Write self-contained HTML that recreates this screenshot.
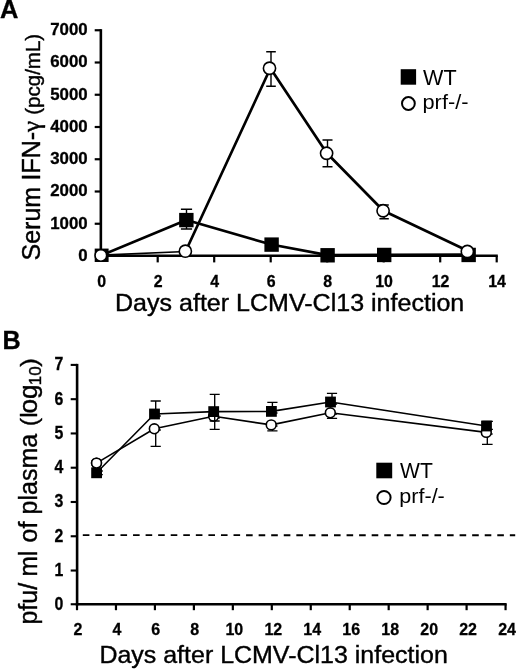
<!DOCTYPE html><html><head><meta charset="utf-8"><title>Figure</title>
<style>html,body{margin:0;padding:0;background:#fff;}svg{display:block;will-change:transform;}text{font-family:"Liberation Sans",sans-serif;fill:#000;}.b{font-weight:bold;stroke:#000;stroke-width:0.3px;}.t{stroke:#000;stroke-width:0.4px;}.s{font-family:"Liberation Serif",serif;}</style>
</head><body>
<svg width="520" height="670" viewBox="0 0 520 670">
<rect width="520" height="670" fill="#fff"/>
<g id="chartA" stroke="#000" fill="none">
<line x1="100.85" y1="29.15" x2="100.85" y2="257.05" stroke-width="2.6"/>
<line x1="99.55" y1="255.75" x2="497.8" y2="255.75" stroke-width="2.6"/>
<line x1="94.7" y1="223.75" x2="101" y2="223.75" stroke-width="2.2"/>
<line x1="94.7" y1="191.50" x2="101" y2="191.50" stroke-width="2.2"/>
<line x1="94.7" y1="159.25" x2="101" y2="159.25" stroke-width="2.2"/>
<line x1="94.7" y1="127.00" x2="101" y2="127.00" stroke-width="2.2"/>
<line x1="94.7" y1="94.75" x2="101" y2="94.75" stroke-width="2.2"/>
<line x1="94.7" y1="62.50" x2="101" y2="62.50" stroke-width="2.2"/>
<line x1="94.7" y1="30.25" x2="101" y2="30.25" stroke-width="2.2"/>
<line x1="101.20" y1="255.75" x2="101.20" y2="261.5" stroke-width="2.2"/>
<line x1="157.70" y1="255.75" x2="157.70" y2="262.4" stroke-width="2.2"/>
<line x1="214.20" y1="255.75" x2="214.20" y2="262.4" stroke-width="2.2"/>
<line x1="270.70" y1="255.75" x2="270.70" y2="262.4" stroke-width="2.2"/>
<line x1="327.20" y1="255.75" x2="327.20" y2="262.4" stroke-width="2.2"/>
<line x1="383.70" y1="255.75" x2="383.70" y2="262.4" stroke-width="2.2"/>
<line x1="440.20" y1="255.75" x2="440.20" y2="262.4" stroke-width="2.2"/>
<line x1="496.70" y1="255.75" x2="496.70" y2="262.4" stroke-width="2.2"/>
</g>
<g class="b" font-size="16.2" text-anchor="end">
<text x="87.7" y="260.90" transform="translate(87.7 0) scale(1.04 1) translate(-87.7 0)">0</text>
<text x="87.7" y="228.65" transform="translate(87.7 0) scale(1.04 1) translate(-87.7 0)">1000</text>
<text x="87.7" y="196.40" transform="translate(87.7 0) scale(1.04 1) translate(-87.7 0)">2000</text>
<text x="87.7" y="164.15" transform="translate(87.7 0) scale(1.04 1) translate(-87.7 0)">3000</text>
<text x="87.7" y="131.90" transform="translate(87.7 0) scale(1.04 1) translate(-87.7 0)">4000</text>
<text x="87.7" y="99.65" transform="translate(87.7 0) scale(1.04 1) translate(-87.7 0)">5000</text>
<text x="87.7" y="67.40" transform="translate(87.7 0) scale(1.04 1) translate(-87.7 0)">6000</text>
<text x="87.7" y="35.15" transform="translate(87.7 0) scale(1.04 1) translate(-87.7 0)">7000</text>
</g>
<g class="b" font-size="17.3" text-anchor="middle">
<text x="101.60" y="286.9" transform="translate(101.60 0) scale(0.92 1) translate(-101.60 0)">0</text>
<text x="158.10" y="286.9" transform="translate(158.10 0) scale(0.92 1) translate(-158.10 0)">2</text>
<text x="214.60" y="286.9" transform="translate(214.60 0) scale(0.92 1) translate(-214.60 0)">4</text>
<text x="271.10" y="286.9" transform="translate(271.10 0) scale(0.92 1) translate(-271.10 0)">6</text>
<text x="327.60" y="286.9" transform="translate(327.60 0) scale(0.92 1) translate(-327.60 0)">8</text>
<text x="384.10" y="286.9" transform="translate(384.10 0) scale(0.92 1) translate(-384.10 0)">10</text>
<text x="440.60" y="286.9" transform="translate(440.60 0) scale(0.92 1) translate(-440.60 0)">12</text>
<text x="497.10" y="286.9" transform="translate(497.10 0) scale(0.92 1) translate(-497.10 0)">14</text>
</g>
<g stroke="#000" stroke-width="2.7" fill="none" stroke-linejoin="round">
<polyline points="101.70,255.18 186.45,219.99 271.20,244.51 327.70,255.18 384.20,254.86 468.95,254.54"/>
<polyline points="185.65,251.22 270.40,68.25 326.90,153.26 383.40,210.76 468.15,251.00"/>
<line x1="101.20" y1="255.10" x2="185.95" y2="251.52" stroke-width="1.7"/>
</g>
<g stroke="#000" stroke-width="1.4" fill="none">
<path d="M186.50 209.30V229.00M180.90 209.30H192.10M180.90 229.00H192.10"/>
<path d="M271.00 51.75V86.25M266.20 51.75H275.80M266.20 86.25H275.80"/>
<path d="M327.50 140.00V166.75M322.50 140.00H332.50M322.50 166.75H332.50"/>
<path d="M384.10 205.00V218.75M379.40 205.00H388.80M379.40 218.75H388.80"/>
</g>
<g fill="#000">
<rect x="94.70" y="248.58" width="13.90" height="13.40"/>
<rect x="179.15" y="212.89" width="14.40" height="14.40"/>
<rect x="264.40" y="237.41" width="14.40" height="14.40"/>
<rect x="320.40" y="248.08" width="14.40" height="14.40"/>
<rect x="377.00" y="247.76" width="14.40" height="14.40"/>
<rect x="461.45" y="247.74" width="14.40" height="14.40"/>
</g>
<g fill="#fff" stroke="#000" stroke-width="1.6">
<circle cx="100.85" cy="255.40" r="5.8"/>
<circle cx="185.35" cy="251.22" r="6.1"/>
<circle cx="269.50" cy="68.25" r="6.1"/>
<circle cx="326.60" cy="153.26" r="6.1"/>
<circle cx="383.10" cy="210.76" r="6.1"/>
<circle cx="467.35" cy="251.50" r="6.1"/>
</g>
<rect x="400.7" y="69.2" width="15.4" height="15.5" fill="#000"/>
<circle cx="408.4" cy="103.5" r="6.4" fill="#fff" stroke="#000" stroke-width="2"/>
<text x="423" y="84.6" font-size="22.3" textLength="33.6" lengthAdjust="spacingAndGlyphs">WT</text>
<text x="422.5" y="109.4" font-size="19.6" textLength="46" lengthAdjust="spacingAndGlyphs">prf-/-</text>
<text class="b" x="0" y="17.8" font-size="25" textLength="18.4" lengthAdjust="spacingAndGlyphs">A</text>
<text class="t" x="115" y="311.4" font-size="24.8" textLength="349.3" lengthAdjust="spacingAndGlyphs">Days after LCMV-Cl13 infection</text>
<g class="t" transform="translate(40.1 261) rotate(-90)"><text x="0.5" y="0" font-size="25">Serum</text><text x="80.5" y="0" font-size="25">IFN-</text><text class="s" x="129" y="0" font-size="25">γ</text><text x="146.3" y="0" font-size="20.5">(pcg/mL)</text></g>
<g id="chartB" stroke="#000" fill="none">
<line x1="77.1" y1="363.86" x2="77.1" y2="605.5" stroke-width="2.6"/>
<line x1="75.8" y1="604.25" x2="506.66" y2="604.25" stroke-width="2.5"/>
<line x1="70.7" y1="604.25" x2="77.1" y2="604.25" stroke-width="2.1"/>
<line x1="70.7" y1="570.53" x2="77.1" y2="570.53" stroke-width="2.1"/>
<line x1="70.7" y1="536.26" x2="77.1" y2="536.26" stroke-width="2.1"/>
<line x1="70.7" y1="501.99" x2="77.1" y2="501.99" stroke-width="2.1"/>
<line x1="70.7" y1="467.72" x2="77.1" y2="467.72" stroke-width="2.1"/>
<line x1="70.7" y1="433.45" x2="77.1" y2="433.45" stroke-width="2.1"/>
<line x1="70.7" y1="399.18" x2="77.1" y2="399.18" stroke-width="2.1"/>
<line x1="70.7" y1="364.91" x2="77.1" y2="364.91" stroke-width="2.1"/>
<line x1="77.00" y1="604.25" x2="77.00" y2="610.2" stroke-width="2.2"/>
<line x1="115.96" y1="604.25" x2="115.96" y2="610.2" stroke-width="2.2"/>
<line x1="154.92" y1="604.25" x2="154.92" y2="610.2" stroke-width="2.2"/>
<line x1="193.88" y1="604.25" x2="193.88" y2="610.2" stroke-width="2.2"/>
<line x1="232.84" y1="604.25" x2="232.84" y2="610.2" stroke-width="2.2"/>
<line x1="271.80" y1="604.25" x2="271.80" y2="610.2" stroke-width="2.2"/>
<line x1="310.76" y1="604.25" x2="310.76" y2="610.2" stroke-width="2.2"/>
<line x1="349.72" y1="604.25" x2="349.72" y2="610.2" stroke-width="2.2"/>
<line x1="388.68" y1="604.25" x2="388.68" y2="610.2" stroke-width="2.2"/>
<line x1="427.64" y1="604.25" x2="427.64" y2="610.2" stroke-width="2.2"/>
<line x1="466.60" y1="604.25" x2="466.60" y2="610.2" stroke-width="2.2"/>
<line x1="505.56" y1="604.25" x2="505.56" y2="610.2" stroke-width="2.2"/>
<line x1="82.8" y1="535.1" x2="515.2" y2="535.3" stroke-width="1.9" stroke-dasharray="6.6 5.96"/>
</g>
<g class="b" font-size="18" text-anchor="end">
<text x="63.4" y="609.90" transform="translate(63.4 0) scale(0.88 1) translate(-63.4 0)">0</text>
<text x="63.4" y="576.03" transform="translate(63.4 0) scale(0.88 1) translate(-63.4 0)">1</text>
<text x="63.4" y="541.76" transform="translate(63.4 0) scale(0.88 1) translate(-63.4 0)">2</text>
<text x="63.4" y="507.49" transform="translate(63.4 0) scale(0.88 1) translate(-63.4 0)">3</text>
<text x="63.4" y="473.22" transform="translate(63.4 0) scale(0.88 1) translate(-63.4 0)">4</text>
<text x="63.4" y="438.95" transform="translate(63.4 0) scale(0.88 1) translate(-63.4 0)">5</text>
<text x="63.4" y="404.68" transform="translate(63.4 0) scale(0.88 1) translate(-63.4 0)">6</text>
<text x="63.4" y="370.41" transform="translate(63.4 0) scale(0.88 1) translate(-63.4 0)">7</text>
</g>
<g class="b" font-size="17.4" text-anchor="middle">
<text x="77.90" y="634.8" transform="translate(77.90 0) scale(0.92 1) translate(-77.90 0)">2</text>
<text x="116.86" y="634.8" transform="translate(116.86 0) scale(0.92 1) translate(-116.86 0)">4</text>
<text x="155.82" y="634.8" transform="translate(155.82 0) scale(0.92 1) translate(-155.82 0)">6</text>
<text x="194.78" y="634.8" transform="translate(194.78 0) scale(0.92 1) translate(-194.78 0)">8</text>
<text x="234.34" y="634.8" transform="translate(234.34 0) scale(0.92 1) translate(-234.34 0)">10</text>
<text x="273.30" y="634.8" transform="translate(273.30 0) scale(0.92 1) translate(-273.30 0)">12</text>
<text x="312.26" y="634.8" transform="translate(312.26 0) scale(0.92 1) translate(-312.26 0)">14</text>
<text x="351.22" y="634.8" transform="translate(351.22 0) scale(0.92 1) translate(-351.22 0)">16</text>
<text x="390.18" y="634.8" transform="translate(390.18 0) scale(0.92 1) translate(-390.18 0)">18</text>
<text x="429.14" y="634.8" transform="translate(429.14 0) scale(0.92 1) translate(-429.14 0)">20</text>
<text x="468.10" y="634.8" transform="translate(468.10 0) scale(0.92 1) translate(-468.10 0)">22</text>
<text x="507.06" y="634.8" transform="translate(507.06 0) scale(0.92 1) translate(-507.06 0)">24</text>
</g>
<g stroke="#000" stroke-width="1.35" fill="none">
<path d="M155.70 430.00V446.40M150.60 430.00H160.80M150.60 446.40H160.80"/>
<path d="M214.70 418.00V429.30M209.70 418.00H219.70M209.70 429.30H219.70"/>
<path d="M272.40 426.00V430.80M267.30 426.00H277.50M267.30 430.80H277.50"/>
<path d="M332.00 414.00V418.30M326.90 414.00H337.10M326.90 418.30H337.10"/>
<path d="M487.30 434.00V444.30M482.00 434.00H492.60M482.00 444.30H492.60"/>
</g>
<polyline stroke="#000" stroke-width="1.6" fill="none" stroke-linejoin="round" points="96.50,463.10 154.30,428.80 213.60,416.30 271.20,424.90 330.30,412.80 486.30,432.40"/>
<g fill="#fff" stroke="#000" stroke-width="1.6">
<circle cx="96.50" cy="463.10" r="4.9"/>
<circle cx="154.30" cy="428.80" r="4.9"/>
<circle cx="213.60" cy="416.30" r="4.9"/>
<circle cx="271.20" cy="424.90" r="4.9"/>
<circle cx="330.30" cy="412.80" r="4.9"/>
<circle cx="486.30" cy="432.40" r="4.9"/>
</g>
<g stroke="#000" stroke-width="1.35" fill="none">
<path d="M97.40 471.00V474.60M92.00 471.00H102.80M92.00 474.60H102.80"/>
<path d="M155.70 401.00V416.00M150.60 401.00H160.80M150.60 416.00H160.80"/>
<path d="M214.70 394.30V421.00M209.70 394.30H219.70M209.70 421.00H219.70"/>
<path d="M272.40 402.30V413.00M267.30 402.30H277.50M267.30 413.00H277.50"/>
<path d="M332.00 393.40V404.00M326.90 393.40H337.10M326.90 404.00H337.10"/>
<path d="M487.60 421.30V429.40M482.30 421.30H492.90M482.30 429.40H492.90"/>
</g>
<polyline stroke="#000" stroke-width="1.6" fill="none" stroke-linejoin="round" points="96.60,472.80 154.50,414.00 213.70,411.60 271.40,411.40 330.50,402.00 486.50,426.00"/>
<g fill="#000">
<rect x="91.20" y="467.40" width="10.8" height="10.8"/>
<rect x="149.10" y="408.60" width="10.8" height="10.8"/>
<rect x="208.30" y="406.20" width="10.8" height="10.8"/>
<rect x="266.00" y="406.00" width="10.8" height="10.8"/>
<rect x="325.10" y="396.60" width="10.8" height="10.8"/>
<rect x="481.10" y="420.60" width="10.8" height="10.8"/>
</g>
<circle cx="96.5" cy="463.1" r="4.9" fill="#fff" stroke="#000" stroke-width="1.6"/>
<rect x="376.3" y="462.7" width="15.9" height="15.6" fill="#000"/>
<circle cx="384" cy="497.5" r="6.6" fill="#fff" stroke="#000" stroke-width="2"/>
<text x="400" y="478.1" font-size="22.3" textLength="32.8" lengthAdjust="spacingAndGlyphs">WT</text>
<text x="399.3" y="502.5" font-size="19.6" textLength="45.5" lengthAdjust="spacingAndGlyphs">prf-/-</text>
<text class="b" x="2.4" y="349" font-size="25.2">B</text>
<text class="t" x="99.4" y="663.1" font-size="24.8" textLength="348.4" lengthAdjust="spacingAndGlyphs">Days after LCMV-Cl13 infection</text>
<g class="t" transform="translate(37.4 624) rotate(-90)" font-size="25"><text x="-0.6" y="0">pfu/</text><text x="47.4" y="0" textLength="25.8" lengthAdjust="spacingAndGlyphs">ml</text><text x="81.5" y="0">of</text><text x="109.6" y="0">plasma</text><text x="198" y="0" font-size="24">(</text><text x="206.3" y="0" font-size="24">l</text><text x="210.4" y="0" textLength="29.2" lengthAdjust="spacingAndGlyphs">og</text><text x="238.8" y="3.6" font-size="17">10</text><text x="257.3" y="0" font-size="24" textLength="8.6" lengthAdjust="spacingAndGlyphs">)</text></g>
</svg></body></html>
